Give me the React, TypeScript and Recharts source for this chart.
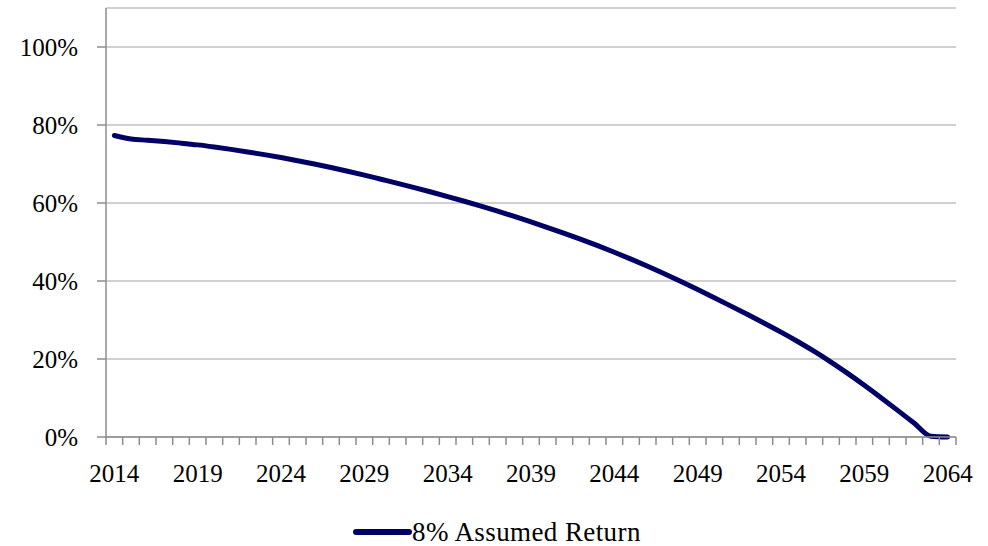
import { LineChart, Line, XAxis, YAxis, CartesianGrid, Legend } from "recharts";

const years = [
  2014, 2015, 2016, 2017, 2018, 2019, 2020, 2021, 2022, 2023,
  2024, 2025, 2026, 2027, 2028, 2029, 2030, 2031, 2032, 2033,
  2034, 2035, 2036, 2037, 2038, 2039, 2040, 2041, 2042, 2043,
  2044, 2045, 2046, 2047, 2048, 2049, 2050, 2051, 2052, 2053,
  2054, 2055, 2056, 2057, 2058, 2059, 2060, 2061, 2062, 2063, 2064,
];

// share of benefits funded, 8% assumed return
const returns8 = [
  0.773, 0.764, 0.761, 0.7575, 0.7535, 0.749, 0.7435, 0.7375, 0.731, 0.724,
  0.7165, 0.7085, 0.7, 0.691, 0.6815, 0.6715, 0.661, 0.6505, 0.6395, 0.6282,
  0.6165, 0.6045, 0.592, 0.579, 0.5655, 0.5515, 0.537, 0.522, 0.5065, 0.4905,
  0.4737, 0.4561, 0.4377, 0.4185, 0.3985, 0.3779, 0.3569, 0.3356, 0.3139, 0.2917,
  0.2689, 0.2449, 0.2194, 0.1922, 0.1632, 0.1327, 0.1009, 0.0683, 0.0351, 0.002, 0,
];

const yTicks = [0, 0.2, 0.4, 0.6, 0.8, 1.0];
const labelYears = [2014, 2019, 2024, 2029, 2034, 2039, 2044, 2049, 2054, 2059, 2064];
// tick marks sit between the yearly categories
const boundaryTicks = [...years.map((y) => y - 0.5), years[years.length - 1] + 0.5];

const data = years.map((year, i) => ({ year, value: returns8[i] }));

const W = 988;
const H = 546;
const M = { top: 8, right: 32, left: 16, bottom: 0 };
const Y_W = 90;
const halfBand = (W - M.left - M.right - Y_W) / years.length / 2;

const font = "'Liberation Serif', 'Times New Roman', serif";
const fontSize = 25;
const navy = "#000066";
const axisGray = "#8c8c8c";

function YearTick(props: any) {
  const { x, y, payload } = props;
  const year = payload.value + 0.5;
  if (!labelYears.includes(year)) return <g />;
  return (
    <text
      x={x + halfBand}
      y={y}
      dy="0.71em"
      textAnchor="middle"
      fill="#000"
      fontFamily={font}
      fontSize={fontSize}
    >
      {year}
    </text>
  );
}

function LegendBox() {
  return (
    <div
      style={{
        display: "flex",
        alignItems: "center",
        marginLeft: 353 - M.left,
        marginTop: 1,
        height: 30,
        fontFamily: font,
        fontSize: 27,
        lineHeight: "27px",
        letterSpacing: 0.4,
        color: "#000",
        whiteSpace: "nowrap",
      }}
    >
      <svg width={59} height={10}>
        <line x1={3} y1={5} x2={56} y2={5} stroke={navy} strokeWidth={6} strokeLinecap="round" />
      </svg>
      <span>8% Assumed Return</span>
    </div>
  );
}

export default function App() {
  return (
    <div style={{ position: "absolute", left: 0, top: 0, background: "#fff" }}>
      <LineChart width={W} height={H} data={data} margin={M}>
        <CartesianGrid stroke="#c0c0c0" strokeWidth={1.5} vertical={false} />
        <XAxis
          dataKey="year"
          type="number"
          domain={[2013.5, 2064.5]}
          ticks={boundaryTicks}
          interval={0}
          tickSize={8}
          tickMargin={19}
          height={79}
          stroke={axisGray}
          strokeWidth={1.5}
          tick={YearTick}
          allowDataOverflow
        />
        <YAxis
          domain={[0, 1.1]}
          ticks={yTicks}
          interval={0}
          width={Y_W}
          tickSize={9}
          tickMargin={19}
          stroke={axisGray}
          strokeWidth={1.5}
          tickFormatter={(v: number) => `${Math.round(v * 100)}%`}
          tick={{ fill: "#000", fontFamily: font, fontSize }}
        />
        <Legend verticalAlign="bottom" align="left" wrapperStyle={{ height: 30 }} content={LegendBox} />
        <Line
          type="monotone"
          dataKey="value"
          name="8% Assumed Return"
          stroke={navy}
          strokeWidth={5}
          strokeLinecap="round"
          dot={false}
          isAnimationActive={false}
        />
      </LineChart>
    </div>
  );
}
